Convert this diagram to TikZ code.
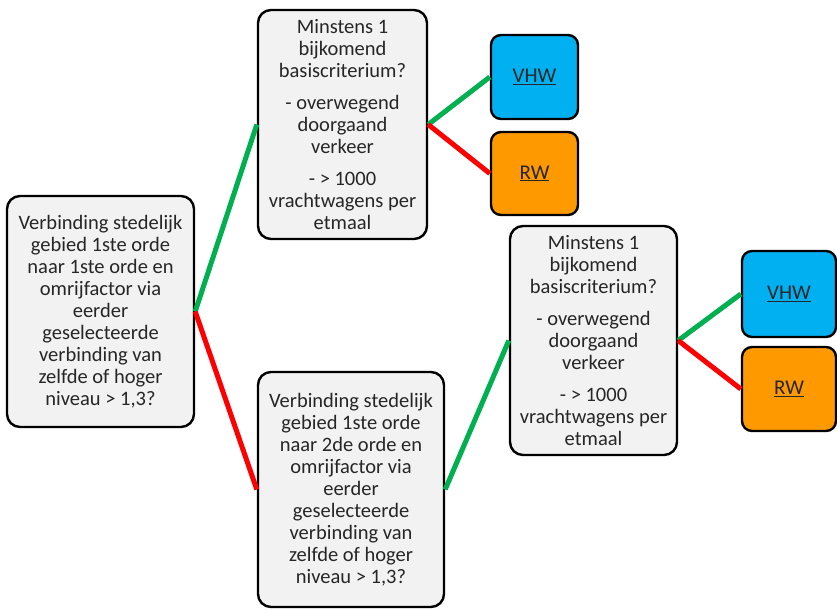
\documentclass[tikz,border=0pt]{standalone}
\usepackage{fontspec}
\setmainfont{Carlito}
\usetikzlibrary{positioning}
\definecolor{boxgray}{HTML}{F2F2F2}
\definecolor{txtgray}{HTML}{262626}
\definecolor{yesgreen}{HTML}{00B050}
\definecolor{nored}{HTML}{FF0000}
\definecolor{vhwblue}{HTML}{00B0F0}
\definecolor{rworange}{HTML}{FF9900}
\tikzset{
  question/.style={draw=black, line width=2.4pt, rounded corners=13pt, fill=boxgray,
    text=txtgray, align=center, inner sep=0pt,
    font=\fontsize{20.5}{22}\selectfont},
  result/.style={draw=black, line width=2.4pt, rounded corners=10pt, inner sep=0pt,
    text=txtgray, font=\fontsize{21}{22}\selectfont},
  yes/.style={draw=yesgreen, line width=5pt},
  no/.style={draw=nored, line width=5pt}
}
\begin{document}
\begin{tikzpicture}[x=1pt, y=-1pt]
\useasboundingbox (0,0) rectangle (837,610);

% decision boxes
\node[question, minimum width=187pt, minimum height=231pt] (first) at (100.5,311.5)
  {Verbinding stedelijk\\gebied 1ste orde\\naar 1ste orde en\\omrijfactor via\\eerder\\geselecteerde\\verbinding van\\zelfde of hoger\\niveau > 1,3?};
\node[question, minimum width=169pt, minimum height=229pt] (crit1) at (342.5,124.5)
  {Minstens 1\\bijkomend\\basiscriterium?\\[10pt]- overwegend\\doorgaand\\verkeer\\[10pt]- > 1000\\vrachtwagens per\\etmaal};
\node[question, minimum width=186pt, minimum height=235pt] (second) at (351,489.5)
  {Verbinding stedelijk\\gebied 1ste orde\\naar 2de orde en\\omrijfactor via\\eerder\\geselecteerde\\verbinding van\\zelfde of hoger\\niveau > 1,3?};
\node[question, minimum width=167pt, minimum height=229pt] (crit2) at (593.5,340.5)
  {Minstens 1\\bijkomend\\basiscriterium?\\[10pt]- overwegend\\doorgaand\\verkeer\\[10pt]- > 1000\\vrachtwagens per\\etmaal};

% outcome boxes
\node[result, fill=vhwblue, minimum width=87pt, minimum height=84pt] (vhw1) at (534.5,77) {\underline{VHW}};
\node[result, fill=rworange, minimum width=87pt, minimum height=83pt] (rw1) at (534.5,173.5) {\underline{RW}};
\node[result, fill=vhwblue, minimum width=94pt, minimum height=86pt] (vhw2) at (789,294) {\underline{VHW}};
\node[result, fill=rworange, minimum width=94pt, minimum height=84pt] (rw2) at (789,389) {\underline{RW}};

% yes / no branches
\draw[yes] (first.east) -- (crit1.west);
\draw[no] (first.east) -- (second.west);
\draw[yes] (crit1.east) -- (vhw1.west);
\draw[no] (crit1.east) -- (rw1.west);
\draw[yes] (second.east) -- (crit2.west);
\draw[yes] (crit2.east) -- (vhw2.west);
\draw[no] (crit2.east) -- (rw2.west);
\end{tikzpicture}
\end{document}
